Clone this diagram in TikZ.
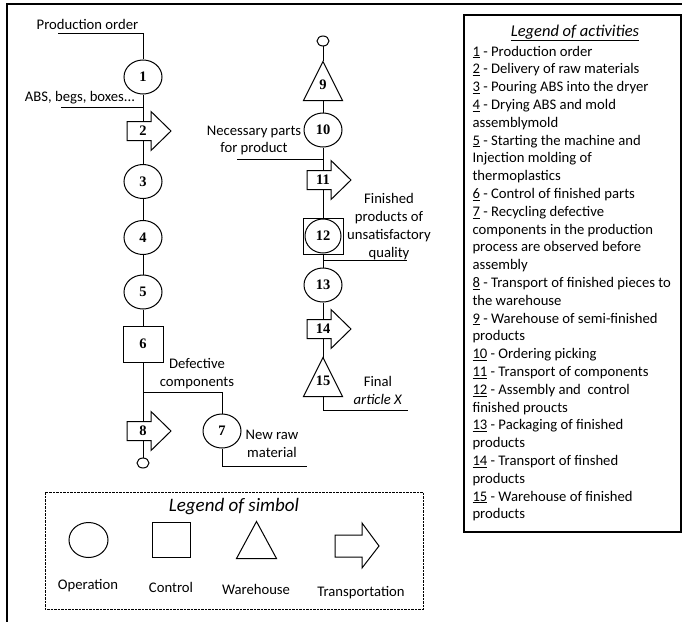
\documentclass[tikz,border=0pt]{standalone}
\usepackage{fontspec}
\setmainfont{Carlito}
\newfontfamily\numfont{Liberation Serif}
\usetikzlibrary{shapes.geometric,calc}
\tikzset{
    txt/.style = {font=\fontsize{14.67pt}{17.8pt}\selectfont, inner sep=0pt, align=center},
    num/.style = {font=\numfont\bfseries\fontsize{14.5pt}{16pt}\selectfont, inner sep=0pt},
    operation/.style = {ellipse, draw, num, minimum width=38pt, minimum height=34pt},
    control/.style = {rectangle, draw, num, minimum width=40pt, minimum height=36pt},
    warehouse/.style = {rectangle, num, minimum width=38pt, minimum height=38pt, text height=17pt, text depth=0pt},
    transport/.style = {rectangle, num, minimum width=24pt, minimum height=19pt},
    endpoint/.style = {ellipse, draw, minimum width=12pt, minimum height=10pt, inner sep=0pt},
}

\begin{document}
\begin{tikzpicture}[x=1pt, y=-1pt, line width=1pt]
\useasboundingbox (0,0) rectangle (682,626);
\draw[line width=1.4pt] (682,4) -- (7,4) -- (7,622);

% left flow
\node[txt] (porder) at (87.5,24.5) {Production order};
\node[operation] (o1) at (143,77) {1};
\node[txt] (abs) at (80,98) {ABS, begs, boxes...};
\node[operation] (o3) at (143,181.5) {3};
\node[operation] (o4) at (143,237.5) {4};
\node[operation] (o5) at (143,292) {5};
\node[control] (c6) at (143,344) {6};
\node[txt] (defect) at (197,374) {Defective\\components};
\node[operation] (o7) at (222,431) {7};
\node[txt] (newraw) at (272,443.5) {New raw\\material};
\node[endpoint] (e8) at (143,463) {};

% right flow
\node[endpoint] (e9) at (323,41) {};
\node[warehouse] (w9) at (323,81) {9};
\node[operation] (o10) at (323,130) {10};
\node[txt] (parts) at (254,140.5) {Necessary parts\\for product};
\node[control] (c12) at (323,236) {};
\node[operation, minimum width=36pt] (o12) at (323,236) {12};
\node[txt] (unsat) at (389,226.5) {Finished\\products of\\unsatisfactory\\quality};
\node[operation] (o13) at (323,285) {13};
\node[warehouse] (w15) at (323,377) {15};
\node[txt] (final) at (378,390.5) {Final\\\textit{article X}};

\foreach \n/\p in {2/{143,131}, 8/{143,431}, 11/{323,180}, 14/{323,329}} {
  \node[transport] (t\n) at (\p) {\n};
  \draw (t\n.center) ++(-16,-9.5) -- ++(24,0) -- ++(0,-10) -- ++(20,19.5)
        -- ++(-20,19.5) -- ++(0,-10) -- ++(-24,0) -- cycle;
}
\draw (w9.north) -- (w9.south west) -- (w9.south east) -- cycle;
\draw (w15.north) -- (w15.south west) -- (w15.south east) -- cycle;

% connectors
\coordinate (pin) at (58,34);
\coordinate (absin) at (61,107);
\coordinate (defsplit) at (143,392);
\coordinate (rawout) at (307,466);
\draw (pin) -| (o1);
\draw (absin) -- (absin -| o1);
\draw (o1) -- (t2) (t2) -- (o3) (o3) -- (o4) (o4) -- (o5) (o5) -- (c6)
      (c6) -- (t8) (t8) -- (e8);
\draw (defsplit) -| (o7);
\draw (o7) |- (rawout);

\coordinate (partsin) at (237,159);
\coordinate (unsatout) at (407,260);
\coordinate (finalout) at (408,410);
\draw (e9) -- (w9) (w9) -- (o10) (o10) -- (t11) (t11) -- (c12) (c12) -- (o13)
      (o13) -- (t14) (t14) -- (w15);
\draw (partsin) -- (partsin -| o10);
\draw (c12 |- unsatout) -- (unsatout);
\draw (w15) |- (finalout);

% legend of symbols
\draw[line width=0.9pt, dash pattern=on 2.5pt off 1pt] (45,492) rectangle (423,609);
\node[txt, font=\fontsize{19pt}{21pt}\selectfont\itshape] (symtitle) at (234,507) {Legend of simbol};
\node[operation, minimum width=39pt, minimum height=35pt] (lop) at (88.5,540) {};
\node[control, minimum width=38pt, minimum height=35pt] (lctl) at (171,540) {};
\node[warehouse, minimum width=39pt, minimum height=36pt] (lwh) at (256.5,540) {};
\draw (lwh.north) -- (lwh.south west) -- (lwh.south east) -- cycle;
\draw (335,535) -- (362,535) -- (362,523) -- (379,546) -- (362,568) -- (362,557) -- (335,557) -- cycle;
\node[txt] (lopt) at (88,586) {Operation};
\node[txt] (lctlt) at (171,587) {Control};
\node[txt] (lwht) at (256,589) {Warehouse};
\node[txt] (ltrt) at (361,593) {Transportation};

% legend of activities
\draw[line width=1.2pt] (464,15) rectangle (681,532);
\node[txt, font=\fontsize{16.5pt}{18pt}\selectfont\itshape] (acttitle) at (575,33) {\underline{Legend of activities}};
\node[txt, align=left, anchor=north west] (actlist) at (472,45.5) {%
\underline{1} - Production order\\
\underline{2} - Delivery of raw materials\\
\underline{3} - Pouring ABS into the dryer\\
\underline{4} - Drying ABS and mold\\
assemblymold\\
\underline{5} - Starting the machine and\\
Injection molding of\\
thermoplastics\\
\underline{6} - Control of finished parts\\
\underline{7} - Recycling defective\\
components in the production\\
process are observed before\\
assembly\\
\underline{8} - Transport of finished pieces to\\
the warehouse\\
\underline{9} - Warehouse of semi-finished\\
products\\
\underline{10} - Ordering picking\\
\underline{11} - Transport of components\\
\underline{12} - Assembly and\ \ control\\
finished proucts\\
\underline{13} - Packaging of finished\\
products\\
\underline{14} - Transport of finshed\\
products\\
\underline{15} - Warehouse of finished\\
products};
\end{tikzpicture}
\end{document}
